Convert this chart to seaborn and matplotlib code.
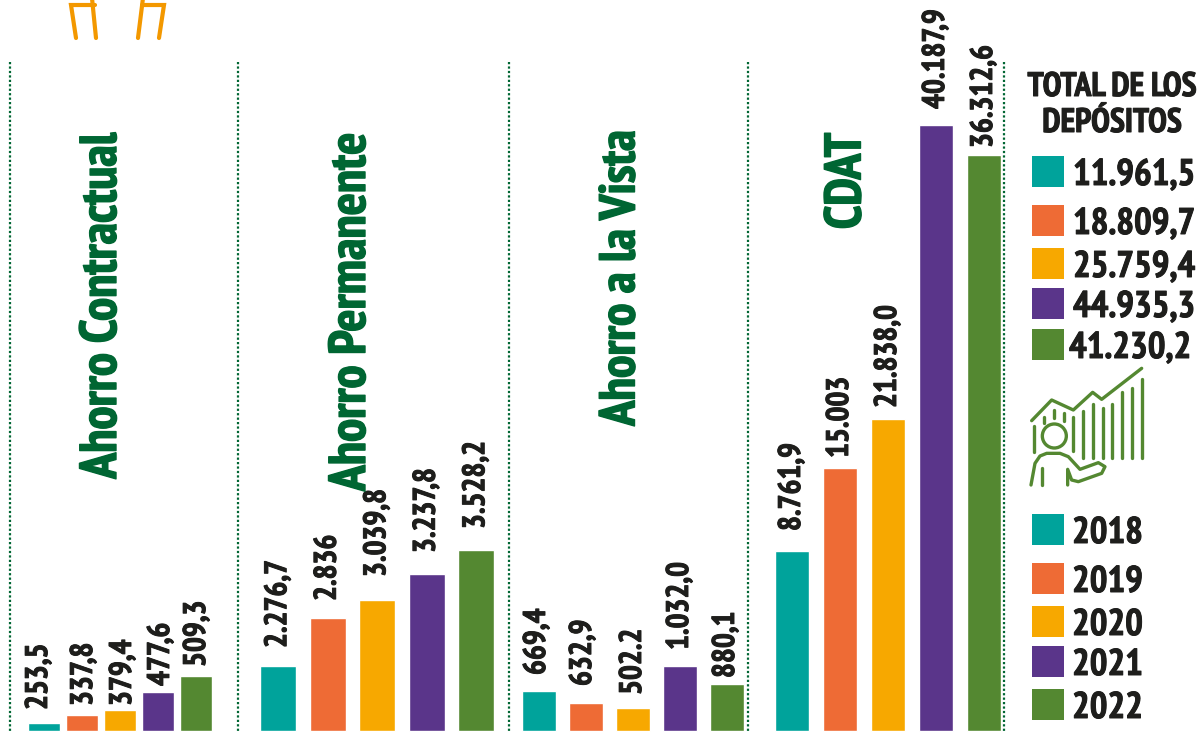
import matplotlib
matplotlib.use("Agg")
import matplotlib.pyplot as plt
import matplotlib.patheffects as pe
from matplotlib.patches import Circle, Rectangle
import seaborn as sns
import pandas as pd

years = ["2018", "2019", "2020", "2021", "2022"]
colors = ["#00A39B", "#EE6B35", "#F7A800", "#5A358A", "#548831"]

panels = ["Ahorro Contractual", "Ahorro Permanente", "Ahorro a la Vista", "CDAT"]
contractual_len = [8, 16, 21, 39, 55]
permanente_len = [65, 113, 131, 157, 181]
vista_len = [40, 28, 23, 65, 47]
cdat_len = [180, 263, 312, 606, 576]
contractual_lbl = ["253,5", "337,8", "379,4", "477,6", "509,3"]
permanente_lbl = ["2.276,7", "2.836", "3.039,8", "3.237,8", "3.528,2"]
vista_lbl = ["669,4", "632,9", "502.2", "1.032,0", "880,1"]
cdat_lbl = ["8.761,9", "15.003", "21.838,0", "40.187,9", "36.312,6"]
totals = ["11.961,5", "18.809,7", "25.759,4", "44.935,3", "41.230,2"]

sns.set_theme(style="white")
FONT = ["PT Sans Narrow", "Liberation Sans", "DejaVu Sans"]
plt.rcParams["font.family"] = FONT
plt.rcParams["font.weight"] = "bold"

W, H = 1200, 732
DARK = "#1E1E1C"
TITLE = "#006633"
fig = plt.figure(figsize=(W / 100, H / 100), dpi=100, facecolor="white")


def heavy(color, width=0.7):
    return [pe.withStroke(linewidth=width, foreground=color)]


# (left edge px, category spacing px, bar width ratio, label gaps px, label shift px)
layout = [
    (25, 38.0, 0.82, [13, 9, 4, 6, 9], [-5, 2, 3, 3, 1]),
    (253.5, 49.5, 0.73, [18, 17, 23, 21, 21], [0, 0, 0, 0, 0]),
    (515.5, 47.0, 0.74, [16, 17, 13, 16, 6], [-2, -3, 0, 0, -1]),
    (768, 48.0, 0.70, [20, 10, 11, 16, 7], [0, 0, 0, 0, 0]),
]
lengths = [contractual_len, permanente_len, vista_len, cdat_len]
labels = [contractual_lbl, permanente_lbl, vista_lbl, cdat_lbl]

for (left, step, bw, gaps, shifts), vals, lbls in zip(layout, lengths, labels):
    ax = fig.add_axes([left / W, 0, 5 * step / W, 1])
    df = pd.DataFrame({"year": years, "v": vals})
    sns.barplot(data=df, x="year", y="v", hue="year", palette=colors, width=bw,
                dodge=False, legend=False, saturation=1, ax=ax)
    ax.set_xlim(-0.5, 4.5)
    ax.set_ylim(-1, H - 1)
    ax.axis("off")
    ax.patch.set_alpha(0)
    for i, (v, t, g, s) in enumerate(zip(vals, lbls, gaps, shifts)):
        ax.annotate(t, (i, v), xytext=(s * 0.72, g * 0.72), textcoords="offset points",
                    rotation=90, ha="center", va="bottom", fontsize=22.5,
                    color=DARK, fontweight="bold", path_effects=heavy(DARK))

deco = fig.add_axes([0, 0, 1, 1], zorder=5)
deco.set_xlim(0, W)
deco.set_ylim(H, 0)
deco.axis("off")
deco.patch.set_alpha(0)

for x in [10, 238, 509, 748, 1004]:
    deco.plot([x, x], [62, H], color=TITLE, lw=1.6, ls=(0, (1, 1)))

title_pos = [(103, 133), (352, 133), (622, 130), (848, 133)]
title_size = [37.3, 37.3, 36.3, 37]
for name, (x, y), fs in zip(panels, title_pos, title_size):
    deco.text(x, y, name, rotation=90, ha="center", va="top", color=TITLE,
              fontsize=fs, fontweight="bold", path_effects=heavy(TITLE, 1.0))

deco.text(1112, 87, "TOTAL DE LOS", ha="center", va="center", fontsize=24.5,
          color=DARK, path_effects=heavy(DARK))
deco.text(1112, 123, "DEPÓSITOS", ha="center", va="center", fontsize=24.5,
          color=DARK, path_effects=heavy(DARK))

tot_y = [156, 205, 248, 288, 329]
tot_x = [1073, 1073, 1073, 1073, 1069]
for y, x, t, c in zip(tot_y, tot_x, totals, colors):
    deco.add_patch(Rectangle((1032, y), 32, 31, color=c, lw=0))
    deco.text(x, y + 29, t, ha="left", va="baseline", fontsize=26.7, color=DARK,
              path_effects=heavy(DARK))

yr_y = [514, 563, 606, 646, 689]
for y, t, c in zip(yr_y, years, colors):
    deco.add_patch(Rectangle((1032, y), 32, 31, color=c, lw=0))
    deco.text(1072, y + 29, t, ha="left", va="baseline", fontsize=26.7, color=DARK,
              path_effects=heavy(DARK))

# decorative pictogram
def zx(v): return 1000 + v / 3
def zy(v): return 360 + v / 3
ic = colors[4]
kw = dict(color=ic, lw=2.4, solid_capstyle="round", solid_joinstyle="round")
def poly(pts, **k):
    deco.plot([zx(a) for a, b in pts], [zy(b) for a, b in pts], **k)
poly([(95, 182), (155, 120), (220, 150), (278, 97), (305, 118), (425, 25)], **kw)
for x, a, b in [(103, 198, 275), (132, 172, 188), (162, 150, 175), (191, 160, 183),
                (220, 170, 272), (249, 152, 295), (278, 132, 295), (308, 145, 295),
                (337, 132, 295), (366, 97, 295), (396, 83, 295), (425, 58, 295)]:
    poly([(x, a), (x, b)], **kw)
deco.add_patch(Circle((zx(163), zy(228)), 12, fill=False, ec=ic, lw=2.4))
poly([(93, 375), (105, 310), (120, 288), (140, 280), (180, 280), (205, 290), (240, 328),
      (295, 308), (315, 320), (305, 340), (235, 365), (215, 360), (203, 328), (203, 375)], **kw)
poly([(126, 325), (126, 375)], **kw)

# orange fragments at the top edge
ok = dict(color="#F39800", lw=3, solid_capstyle="round", solid_joinstyle="miter")
deco.plot([76, 71, 95], [38, 5, 5], **ok)
deco.plot([92, 96], [-2, 38], **ok)
deco.plot([138, 143], [38, -2], **ok)
deco.plot([142, 164, 159], [5, 5, 38], **ok)

fig.savefig("out.png", dpi=100, facecolor="white")
